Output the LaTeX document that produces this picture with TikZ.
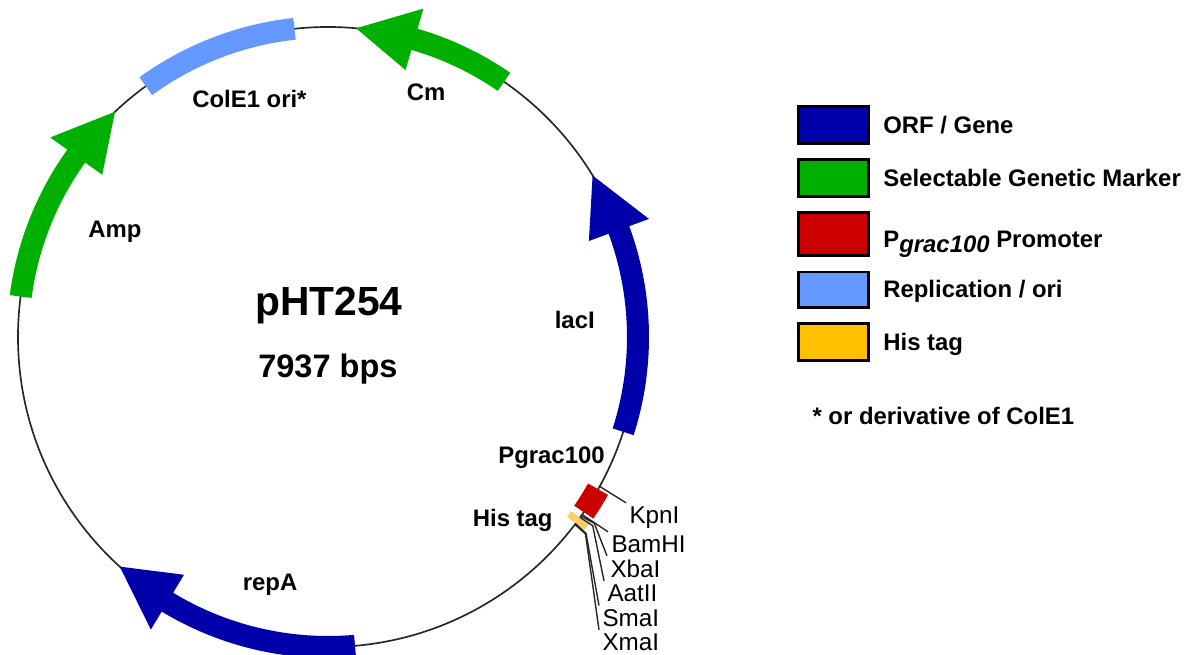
\documentclass[tikz,border=0pt]{standalone}
\usepackage{fontspec}
\setmainfont{Liberation Sans}
\definecolor{genecol}{HTML}{0000AA}
\definecolor{markercol}{HTML}{00B000}
\definecolor{promcol}{HTML}{CC0000}
\definecolor{oricol}{HTML}{6699FF}
\definecolor{tagcol}{HTML}{FFC000}
\definecolor{taglight}{HTML}{FFCC66}
\newcommand{\genearrow}[4]{%
  \fill[#4] (#1:299) arc[start angle=#1, end angle=#2, radius=299] -- (#2:278) -- (#3:310)
    -- (#2:342) -- (#2:321) arc[start angle=#2, end angle=#1, radius=321] -- cycle;}
\tikzset{
  boldlabel/.style={anchor=base west, inner sep=0pt, font=\fontsize{13.6}{15}\selectfont\bfseries},
  sitelabel/.style={anchor=base west, inner sep=0pt, outer sep=2pt, font=\fontsize{13.8}{15}\selectfont},
  legendbox/.style={draw=black, line width=1.5pt, minimum width=40.1pt, inner sep=0pt},
  siteline/.style={line width=0.8pt, black!85}
}
\begin{document}
\begin{tikzpicture}[x=0.02cm, y=0.02cm]
  \useasboundingbox (-328,-318) rectangle (868,337);
  \draw[line width=0.95pt, black!85] (0,0) circle (310);
  \genearrow{172.5}{144.3}{133.4}{markercol}
  \genearrow{55.4}{73.8}{84.8}{markercol}
  \genearrow{-17.8}{20.2}{31.4}{genecol}
  \genearrow{-85}{-121.2}{-132.2}{genecol}
  \draw[oricol, line width=12.4pt] (126:310) arc[start angle=126, end angle=96.2, radius=310];
  \draw[promcol, line width=13.1pt] (-29.4:310) arc[start angle=-29.4, end angle=-34.4, radius=310];
  \draw[taglight, line width=12.4pt] (-35.65:310) arc[start angle=-35.65, end angle=-36.95, radius=310];

  \node[boldlabel] (colLabel) at (-136,229.5) {ColE1 ori*};
  \node[boldlabel] (ampLabel) at (-240,99.5) {Amp};
  \node[boldlabel] (cmLabel) at (78.5,236) {Cm};
  \node[boldlabel] (lacLabel) at (226.5,8) {lacI};
  \node[boldlabel] (repLabel) at (-85.5,-253) {repA};
  \node[boldlabel] (promLabel) at (170,-126.5) {Pgrac100};
  \node[boldlabel] (hisLabel) at (144.5,-189.5) {His tag};
  \node[boldlabel, font=\fontsize{23.2}{26}\selectfont\bfseries] (nameLabel) at (-73,21) {pHT254};
  \node[boldlabel, font=\fontsize{18.5}{22}\selectfont\bfseries] (sizeLabel) at (-70,-41) {7937 bps};

  \node[sitelabel] (kpn) at (298,-186) {KpnI};
  \node[sitelabel] (bam) at (280,-215) {BamHI};
  \node[sitelabel] (xba) at (279,-240) {XbaI};
  \node[sitelabel] (aat) at (276,-264) {AatII};
  \node[sitelabel] (sma) at (271,-289) {SmaI};
  \node[sitelabel] (xma) at (271,-313) {XmaI};

  \coordinate (kpnSite) at (271,-149);
  \coordinate (bamSite) at (253.7,-177.3);
  \coordinate (xbaSite) at (252.7,-179);
  \coordinate (xbaBend) at (266.3,-186.3);
  \coordinate (aatSite) at (252,-180.3);
  \coordinate (aatBend) at (264.7,-188.7);
  \coordinate (smaSite) at (247,-186.3);
  \coordinate (smaBend) at (258,-196.3);
  \coordinate (xmaSite) at (246.5,-187);
  \coordinate (xmaBend) at (257.5,-197);
  \draw[siteline] (kpnSite) -- (kpn.north west);
  \draw[siteline] (bamSite) -- (bam.north west);
  \draw[siteline] (xbaSite) -- (xbaBend) -- (xba.north west);
  \draw[siteline] (aatSite) -- (aatBend) -- (aat.north west);
  \draw[siteline] (smaSite) -- (smaBend) -- (sma.north west);
  \draw[siteline] (xmaSite) -- (xmaBend) -- (xma.north west);

  \node[legendbox, fill=genecol, minimum height=21.3pt] (boxGene) at (505.5,212) {};
  \node[legendbox, fill=markercol, minimum height=21pt] (boxMarker) at (505.5,159) {};
  \node[legendbox, fill=promcol, minimum height=24.8pt] (boxProm) at (505.5,103) {};
  \node[legendbox, fill=oricol, minimum height=20.2pt] (boxOri) at (505.5,47.3) {};
  \node[legendbox, fill=tagcol, minimum height=21pt] (boxTag) at (505.5,-5) {};
  \node[boldlabel] (textGene) at (555,203.7) {ORF / Gene};
  \node[boldlabel] (textMarker) at (555,150.3) {Selectable Genetic Marker};
  \node[boldlabel] (textProm) at (555,89.3) {P\raisebox{-2.8pt}{\textit{grac100}} Promoter};
  \node[boldlabel] (textOri) at (555,39.3) {Replication / ori};
  \node[boldlabel] (textTag) at (555,-14) {His tag};
  \node[boldlabel] (textNote) at (484.2,-87.3) {* or derivative of ColE1};
\end{tikzpicture}
\end{document}
